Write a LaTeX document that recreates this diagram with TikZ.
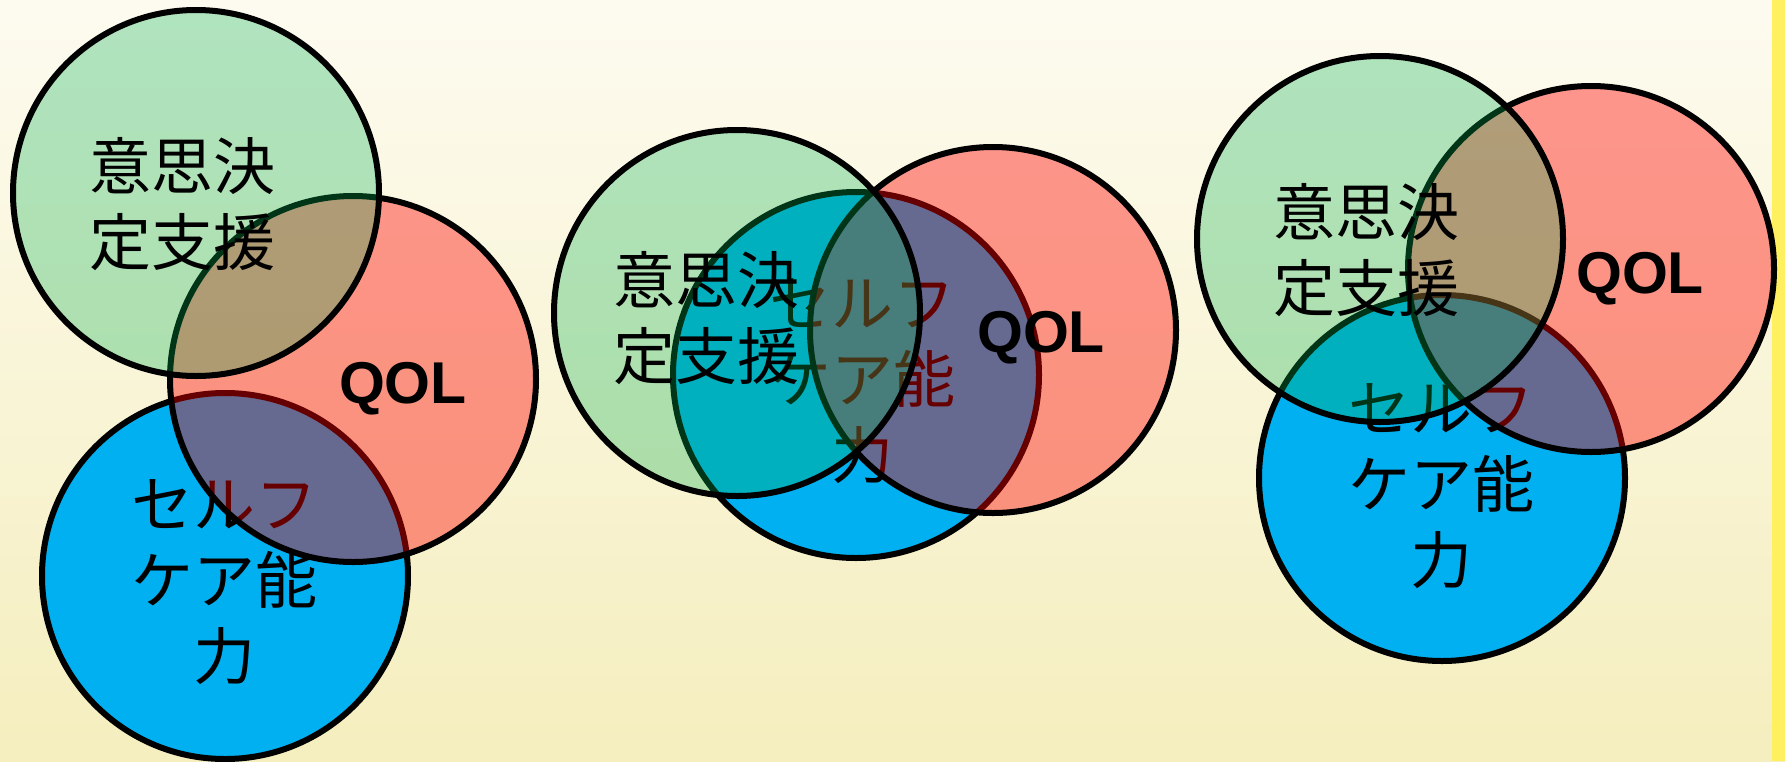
\documentclass[tikz,border=0pt]{standalone}
\usepackage{fontspec}
\setmainfont{Liberation Sans}
\newfontfamily\jpfont{Noto Sans CJK JP}
\usetikzlibrary{positioning}
\definecolor{setgreen}{HTML}{00B050}
\definecolor{setred}{HTML}{FF0000}
\definecolor{setblue}{HTML}{00B0F0}
\definecolor{bgtop}{HTML}{FDFBF0}
\definecolor{bgbottom}{HTML}{F5EEBE}
\definecolor{edgeyellow}{HTML}{FFF060}
\tikzset{
    venn/.style={circle, draw=black, line width=6pt, minimum size=366pt, inner sep=0pt},
    green set/.style={venn, fill=setgreen, fill opacity=0.3},
    red set/.style={venn, fill=setred, fill opacity=0.4},
    blue set/.style={venn, fill=setblue},
    jptext/.style={font=\jpfont\fontsize{62}{76}\selectfont, align=center, inner sep=0pt},
    qoltext/.style={font=\bfseries\fontsize{59}{70}\selectfont, inner sep=0pt},
}

\begin{document}
\begin{tikzpicture}[x=1pt, y=-1pt]
    \useasboundingbox (0,0) rectangle (1785,761);
    \fill[top color=bgtop, bottom color=bgbottom] (0,0) rectangle (1785,761);
    \fill[edgeyellow] (1772,0) rectangle (1785,761);

    % first group
    \node[blue set] (b1) at (225,576) {};
    \node[jptext] (b1t) at (224,582) {セルフ\\ケア能\\力};
    \node[red set] (r1) at (353,379) {};
    \node[qoltext] (r1t) at (403,389) {QOL};
    \node[green set] (g1) at (196,193) {};
    \node[jptext] (g1t) at (182,204) {意思決\\定支援};

    % second group
    \node[blue set] (b2) at (856,375) {};
    \node[jptext] (b2t) at (862,381) {セルフ\\ケア能\\力};
    \node[red set] (r2) at (993,330) {};
    \node[qoltext] (r2t) at (1041,338) {QOL};
    \node[green set] (g2) at (737,313) {};
    \node[jptext] (g2t) at (706,318) {意思決\\定支援};

    % third group
    \node[blue set] (b3) at (1442,478) {};
    \node[jptext] (b3t) at (1441,486) {セルフ\\ケア能\\力};
    \node[red set] (r3) at (1591,269) {};
    \node[qoltext] (r3t) at (1640,279) {QOL};
    \node[green set] (g3) at (1380,239) {};
    \node[jptext] (g3t) at (1366,250) {意思決\\定支援};

\end{tikzpicture}
\end{document}
